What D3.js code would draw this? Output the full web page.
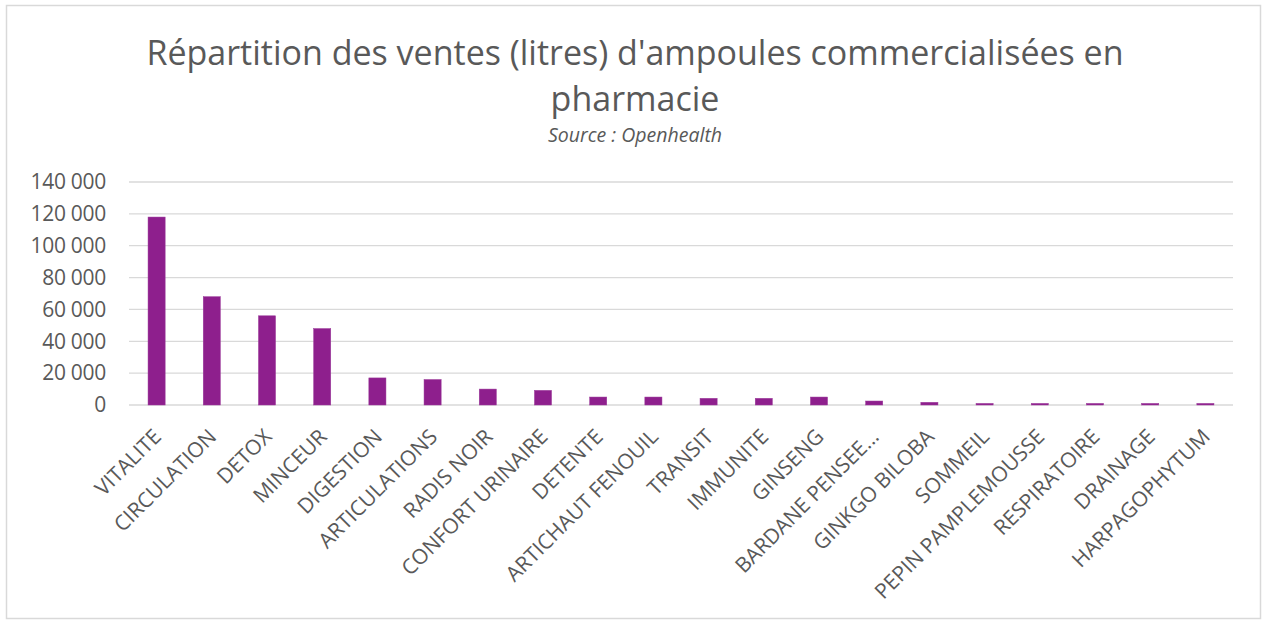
<!DOCTYPE html>
<html><head><meta charset="utf-8">
<script src="https://cdn.jsdelivr.net/npm/d3@7"></script>
<style>html,body{margin:0;padding:0;background:#fff;}svg{display:block;}</style>
</head><body>
<svg id="c" width="1262" height="626"></svg>
<script>
const categories = ["VITALITE","CIRCULATION","DETOX","MINCEUR","DIGESTION","ARTICULATIONS","RADIS NOIR","CONFORT URINAIRE","DETENTE","ARTICHAUT FENOUIL","TRANSIT","IMMUNITE","GINSENG","BARDANE PENSEE...","GINKGO BILOBA","SOMMEIL","PEPIN PAMPLEMOUSSE","RESPIRATOIRE","DRAINAGE","HARPAGOPHYTUM"];
const values = [118000,68000,56000,48000,17000,16000,10000,9200,5000,5000,4200,4200,5000,2500,1700,1000,1000,1000,1000,1000];
const yTicks = [0,20000,40000,60000,80000,100000,120000,140000];
const titleLines = ["Répartition des ventes (litres) d'ampoules commercialisées en","pharmacie"];
const subtitle = "Source : Openhealth";

const svg = d3.select("#c");
const font = "'Open Sans', sans-serif";
const grey = "#595959";

svg.append("rect").attr("x",6.5).attr("y",5.5).attr("width",1254).attr("height",613)
  .attr("fill","#fff").attr("stroke","#d9d9d9").attr("stroke-width",1.5);

const pLeft = 129, pRight = 1233, pTop = 182, pBottom = 405;
const x = d3.scaleBand().domain(categories).range([pLeft,pRight]).paddingInner(0.69).paddingOuter(0.345);
const y = d3.scaleLinear().domain([0,140000]).range([pBottom,pTop]);

svg.append("g").selectAll("line").data(yTicks).join("line")
  .attr("x1",pLeft).attr("x2",pRight)
  .attr("y1",d=>y(d)).attr("y2",d=>y(d))
  .attr("stroke","#d9d9d9").attr("stroke-width",1.3);

const yAxis = d3.axisLeft(y).tickValues(yTicks).tickSize(0).tickPadding(23)
  .tickFormat(d => d===0 ? "0" : d3.format(",")(d).replace(/,/g," "));
const gy = svg.append("g").attr("transform",`translate(${pLeft},0)`).call(yAxis);
gy.select(".domain").remove();
gy.selectAll("text").attr("fill",grey).style("font-family",font).style("font-size","21px")
  .style("letter-spacing","-0.3px");

svg.append("g").selectAll("rect").data(values).join("rect")
  .attr("x",(d,i)=>x(categories[i])).attr("width",x.bandwidth())
  .attr("y",d=>y(d)).attr("height",d=>y(0)-y(d))
  .attr("fill","#8e1f8d").attr("stroke","#9b3a9a").attr("stroke-width",0.5);

const xAxis = d3.axisBottom(x).tickSize(0).tickPadding(0);
const gx = svg.append("g").attr("transform",`translate(0,${pBottom})`).call(xAxis);
gx.select(".domain").remove();
gx.selectAll("text")
  .attr("fill",grey).style("font-family",font).style("font-size","21px")
  .attr("text-anchor","end").attr("y",0).attr("dy",0)
  .attr("transform","translate(6,33) rotate(-45)");

const t = svg.append("text").attr("text-anchor","middle").attr("fill",grey)
  .style("font-family",font).style("font-size","34px");
t.append("tspan").attr("x",635).attr("y",65).text(titleLines[0]);
t.append("tspan").attr("x",635).attr("y",111).text(titleLines[1]);
svg.append("text").attr("x",635).attr("y",142).attr("text-anchor","middle").attr("fill",grey)
  .style("font-family",font).style("font-size","19.5px").style("font-style","italic").text(subtitle);
</script>
</body></html>
